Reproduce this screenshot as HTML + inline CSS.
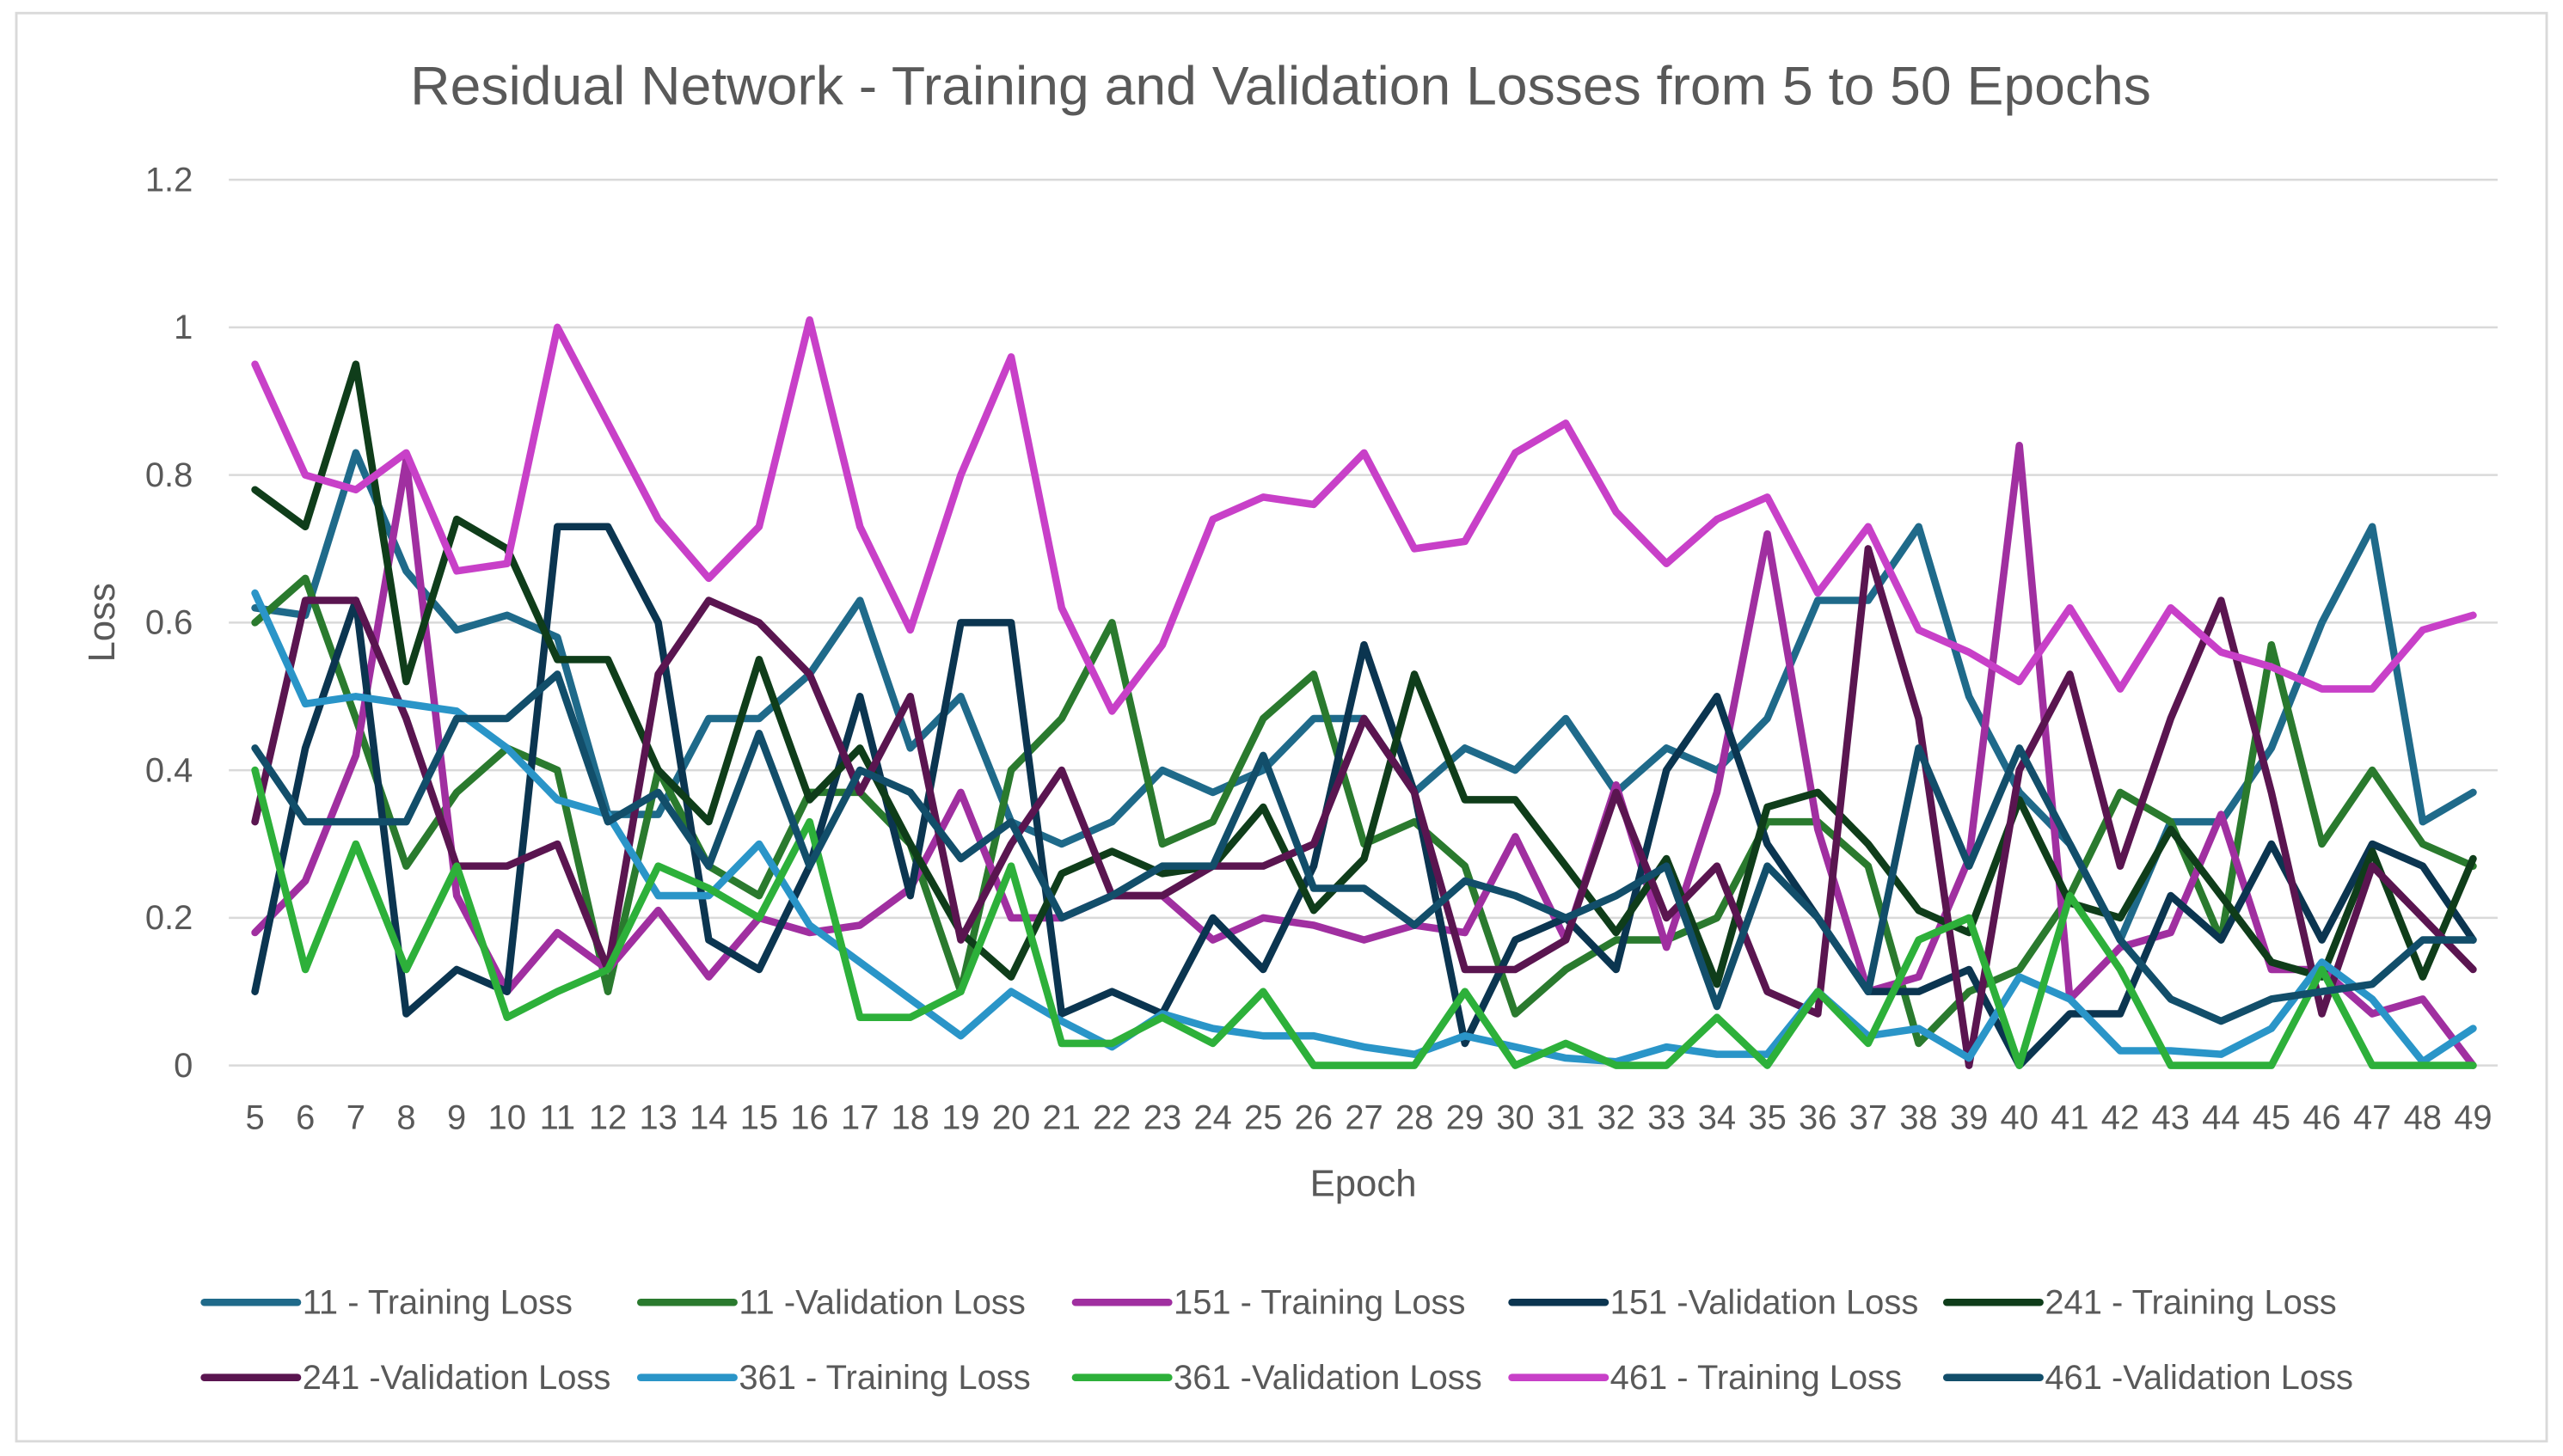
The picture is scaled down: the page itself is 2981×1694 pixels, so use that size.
<!DOCTYPE html>
<html><head><meta charset="utf-8"><style>
html,body{margin:0;padding:0;background:#fff}
svg{display:block;font-family:"Liberation Sans",Arial,sans-serif}
</style></head><body>
<svg id="chart" width="2981" height="1694" viewBox="0 0 1568 891" xmlns="http://www.w3.org/2000/svg">
<rect x="0" y="0" width="1568" height="891" fill="#fff"/>
<rect x="10" y="8" width="1548" height="874" fill="#fff" stroke="#d9d9d9" stroke-width="1.5"/>
<text x="251" y="64" textLength="1065" lengthAdjust="spacingAndGlyphs" font-size="33" fill="#595959">Residual Network - Training and Validation Losses from 5 to 50 Epochs</text>
<g id="grid"></g><g id="axes"></g><g id="series"></g><g id="legend"></g>
<text x="834" y="732" text-anchor="middle" font-size="23" fill="#595959">Epoch</text>
<text transform="translate(70,381) rotate(-90)" text-anchor="middle" font-size="23" fill="#595959">Loss</text>
</svg>
<script>
const epochs=[5,6,7,8,9,10,11,12,13,14,15,16,17,18,19,20,21,22,23,24,25,26,27,28,29,30,31,32,33,34,35,36,37,38,39,40,41,42,43,44,45,46,47,48,49];
const yTicks=[0,0.2,0.4,0.6,0.8,1,1.2];
const yTickLabels=["0","0.2","0.4","0.6","0.8","1","1.2"];
const s11T=[0.62,0.61,0.83,0.67,0.59,0.61,0.58,0.34,0.34,0.47,0.47,0.53,0.63,0.43,0.5,0.33,0.3,0.33,0.4,0.37,0.4,0.47,0.47,0.37,0.43,0.4,0.47,0.37,0.43,0.4,0.47,0.63,0.63,0.73,0.5,0.37,0.3,0.17,0.33,0.33,0.43,0.6,0.73,0.33,0.37];
const s11V=[0.6,0.66,0.47,0.27,0.37,0.43,0.4,0.1,0.4,0.27,0.23,0.37,0.37,0.3,0.1,0.4,0.47,0.6,0.3,0.33,0.47,0.53,0.3,0.33,0.27,0.07,0.13,0.17,0.17,0.2,0.33,0.33,0.27,0.03,0.1,0.13,0.23,0.37,0.33,0.17,0.57,0.3,0.4,0.3,0.27];
const s151T=[0.18,0.25,0.42,0.82,0.23,0.1,0.18,0.13,0.21,0.12,0.2,0.18,0.19,0.24,0.37,0.2,0.2,0.23,0.23,0.17,0.2,0.19,0.17,0.19,0.18,0.31,0.17,0.38,0.16,0.37,0.72,0.32,0.1,0.12,0.28,0.84,0.09,0.16,0.18,0.34,0.13,0.13,0.07,0.09,0];
const s151V=[0.1,0.43,0.63,0.07,0.13,0.1,0.73,0.73,0.6,0.17,0.13,0.27,0.5,0.23,0.6,0.6,0.07,0.1,0.07,0.2,0.13,0.27,0.57,0.37,0.03,0.17,0.2,0.13,0.4,0.5,0.3,0.2,0.1,0.1,0.13,0,0.07,0.07,0.23,0.17,0.3,0.17,0.3,0.27,0.17];
const s241T=[0.78,0.73,0.95,0.52,0.74,0.7,0.55,0.55,0.4,0.33,0.55,0.36,0.43,0.3,0.18,0.12,0.26,0.29,0.26,0.27,0.35,0.21,0.28,0.53,0.36,0.36,0.27,0.18,0.28,0.11,0.35,0.37,0.3,0.21,0.18,0.36,0.22,0.2,0.32,0.23,0.14,0.12,0.29,0.12,0.28];
const s241V=[0.33,0.63,0.63,0.47,0.27,0.27,0.3,0.13,0.53,0.63,0.6,0.53,0.37,0.5,0.17,0.3,0.4,0.23,0.23,0.27,0.27,0.3,0.47,0.37,0.13,0.13,0.17,0.37,0.2,0.27,0.1,0.07,0.7,0.47,0,0.4,0.53,0.27,0.47,0.63,0.37,0.07,0.27,0.2,0.13];
const s361T=[0.64,0.49,0.5,0.49,0.48,0.43,0.36,0.34,0.23,0.23,0.3,0.19,0.14,0.09,0.04,0.1,0.06,0.025,0.07,0.05,0.04,0.04,0.025,0.015,0.04,0.025,0.01,0.005,0.025,0.015,0.015,0.1,0.04,0.05,0.01,0.12,0.09,0.02,0.02,0.015,0.05,0.14,0.09,0.005,0.05];
const s361V=[0.4,0.13,0.3,0.13,0.27,0.065,0.1,0.13,0.27,0.24,0.2,0.33,0.065,0.065,0.1,0.27,0.03,0.03,0.065,0.03,0.1,0,0,0,0.1,0,0.03,0,0,0.065,0,0.1,0.03,0.17,0.2,0,0.23,0.13,0,0,0,0.13,0,0,0];
const s461T=[0.95,0.8,0.78,0.83,0.67,0.68,1.0,0.87,0.74,0.66,0.73,1.01,0.73,0.59,0.8,0.96,0.62,0.48,0.57,0.74,0.77,0.76,0.83,0.7,0.71,0.83,0.87,0.75,0.68,0.74,0.77,0.64,0.73,0.59,0.56,0.52,0.62,0.51,0.62,0.56,0.54,0.51,0.51,0.59,0.61];
const s461V=[0.43,0.33,0.33,0.33,0.47,0.47,0.53,0.33,0.37,0.27,0.45,0.27,0.4,0.37,0.28,0.33,0.2,0.23,0.27,0.27,0.42,0.24,0.24,0.19,0.25,0.23,0.2,0.23,0.27,0.08,0.27,0.2,0.1,0.43,0.27,0.43,0.3,0.17,0.09,0.06,0.09,0.1,0.11,0.17,0.17];
const seriesNames=["11 - Training Loss","11 -Validation Loss","151 - Training Loss","151 -Validation Loss","241 - Training Loss","241 -Validation Loss","361 - Training Loss","361 -Validation Loss","461 - Training Loss","461 -Validation Loss"];
const seriesData=[s11T,s11V,s151T,s151V,s241T,s241V,s361T,s361V,s461T,s461V];
const seriesColors=["#1f6a8a","#2a7a2e","#a02fa0","#0b3550","#0f3d1a","#5a1550","#2a95c8","#2db03a","#c840c8","#124e6a"];
const NS="http://www.w3.org/2000/svg";
const X0=156,X1=1513,Y0=652,Y12=110,GL=140,GR=1528;
function xs(e){return X0+(e-epochs[0])*(X1-X0)/(epochs[epochs.length-1]-epochs[0]);}
function ys(v){return Y0-v*(Y0-Y12)/1.2;}
function mk(t,a,p){const el=document.createElementNS(NS,t);for(const k in a)el.setAttribute(k,a[k]);p.appendChild(el);return el;}
const grid=document.getElementById('grid'),axes=document.getElementById('axes');
yTicks.forEach((v,i)=>{
  const l=mk('line',{x1:GL,x2:GR,y1:ys(v),y2:ys(v),stroke:'#d9d9d9','stroke-width':1.3},grid);
  
  
  const t=mk('text',{x:118,y:ys(v)+7,'text-anchor':'end','font-size':21,fill:'#595959'},axes);
  t.textContent=yTickLabels[i];
  
  
});
epochs.forEach(e=>{
  const t=mk('text',{x:xs(e),y:691,'text-anchor':'middle','font-size':21,fill:'#595959'},axes);
  t.textContent=e;
  
  
});
const sg=document.getElementById('series');
seriesData.forEach((d,i)=>{
  const pts=d.map((v,j)=>xs(epochs[j]).toFixed(1)+','+ys(v).toFixed(1)).join(' ');
  const p=mk('polyline',{points:pts,fill:'none',stroke:seriesColors[i],'stroke-width':4.5,'stroke-linejoin':'round','stroke-linecap':'round'},sg);
  
  
});
const lg=document.getElementById('legend');
const lx=[125,392,658,925,1191],ly=[797,843];
seriesNames.forEach((n,i)=>{
  const x=lx[i%5],y=ly[Math.floor(i/5)];
  const g=mk('g',{},lg);
  
  
  mk('line',{x1:x,x2:x+57,y1:y,y2:y,stroke:seriesColors[i],'stroke-width':4.5,'stroke-linecap':'round'},g);
  const t=mk('text',{x:x+60,y:y+7,'font-size':21,fill:'#595959'},g);
  t.textContent=n;
});
</script>
</body></html>
